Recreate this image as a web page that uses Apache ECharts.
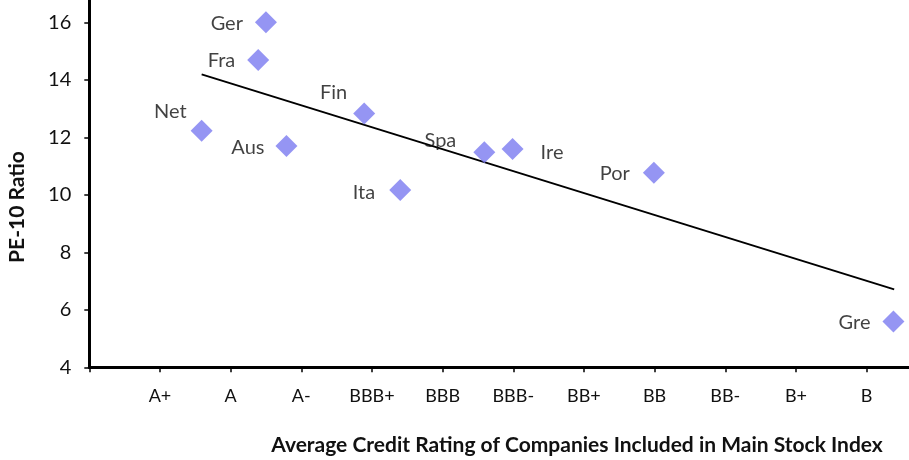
<!DOCTYPE html>
<html>
<head>
<meta charset="utf-8">
<script src="https://cdn.jsdelivr.net/npm/echarts@6/dist/echarts.min.js"></script>
<style>
html,body{margin:0;padding:0;background:#fff;}
#chart{width:909px;height:460px;}
</style>
</head>
<body>
<div id="chart"></div>
<script>
// ---- data ----
var countries = ['Ger', 'Fra', 'Net', 'Aus', 'Fin', 'Ita', 'Spa', 'Ire', 'Por', 'Gre'];
var ratingScore = [2.50, 2.39, 1.59, 2.79, 3.89, 4.40, 5.59, 5.99, 7.99, 11.38];
var pe10 = [16.0, 14.69, 12.23, 11.70, 12.83, 10.17, 11.48, 11.59, 10.77, 5.59];
var trendX = [1.59, 11.39];
var trendY = [14.19, 6.71];
var ratingLabels = ['', 'A+', 'A', 'A-', 'BBB+', 'BBB', 'BBB-', 'BB+', 'BB', 'BB-', 'B+', 'B'];
var xTickValues = [0, 1, 2, 3, 4, 5, 6, 7, 8, 9, 10, 11];
var yTicks = [4, 6, 8, 10, 12, 14, 16];

// ---- label placement (presentation only) ----
var labelPlace = {
  Ger: {position: 'left', offset: [0, 1]},
  Fra: {position: 'left', offset: [0, 1]},
  Net: {position: 'left', offset: [8, -19]},
  Aus: {position: 'left', offset: [1, 2]},
  Fin: {position: 'left', offset: [6, -21]},
  Ita: {position: 'left', offset: [-2, 3]},
  Spa: {position: 'left', offset: [-5, -12]},
  Ire: {position: 'right', offset: [5, 3]},
  Por: {position: 'left', offset: [-1, 1]},
  Gre: {position: 'left', offset: [0, 1]}
};

var FONT = 'Lato';
var chart = echarts.init(document.getElementById('chart'), null, {renderer: 'canvas'});

var scatterData = countries.map(function (c, i) {
  var p = labelPlace[c];
  return {
    name: c,
    value: [ratingScore[i], pe10[i]],
    label: {show: true, position: p.position, offset: p.offset, distance: 12}
  };
});

var option = {
  animation: false,
  backgroundColor: '#ffffff',
  grid: {left: 89.3, right: 0, top: 0, bottom: 92.7, containLabel: false},
  xAxis: {
    type: 'value', min: 0, max: 11.6, interval: 1,
    axisLine: {show: true, onZero: false, lineStyle: {color: '#000', width: 3}},
    axisTick: {show: true, length: 5, customValues: xTickValues, lineStyle: {color: '#000', width: 1.5}},
    splitLine: {show: false},
    axisLabel: {
      margin: 20, color: '#111', fontFamily: FONT, fontSize: 18,
      customValues: xTickValues.slice(1),
      formatter: function (v) { return ratingLabels[Math.round(v)] || ''; }
    }
  },
  yAxis: {
    type: 'value', min: 4, max: 16.776, interval: 2,
    axisLine: {show: true, onZero: false, lineStyle: {color: '#000', width: 3}},
    axisTick: {show: true, length: 5, customValues: yTicks, lineStyle: {color: '#000', width: 1.5}},
    splitLine: {show: false},
    axisLabel: {
      margin: 18, color: '#111', fontFamily: FONT, fontSize: 20,
      customValues: yTicks,
      formatter: function (v) { return String(v); }
    }
  },
  graphic: [
    {
      type: 'text', x: 577, y: 445,
      style: {
        text: 'Average Credit Rating of Companies Included in Main Stock Index',
        fill: '#111', font: 'bold 21px ' + FONT, textAlign: 'center', textVerticalAlign: 'middle'
      }
    },
    {
      type: 'text', x: 17, y: 207, rotation: Math.PI / 2,
      style: {
        text: 'PE-10 Ratio', fill: '#111', font: 'bold 21px ' + FONT,
        textAlign: 'center', textVerticalAlign: 'middle'
      }
    }
  ],
  series: [
    {
      type: 'line',
      data: trendX.map(function (x, i) { return [x, trendY[i]]; }),
      showSymbol: false, symbol: 'none',
      lineStyle: {color: '#000', width: 2},
      z: 2, silent: true
    },
    {
      type: 'scatter',
      symbol: 'diamond', symbolSize: 22,
      itemStyle: {color: '#7b7bf0'},
      label: {color: '#111', fontFamily: FONT, fontSize: 20, formatter: '{b}'},
      data: scatterData,
      z: 3
    }
  ]
};
chart.setOption(option);
</script>
</body>
</html>
